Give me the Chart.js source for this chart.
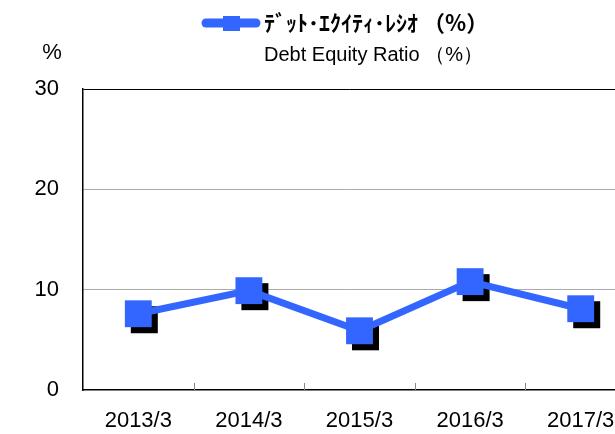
<!DOCTYPE html>
<html><head><meta charset="utf-8">
<script src="https://cdn.jsdelivr.net/npm/chart.js@4/dist/chart.umd.min.js"></script>
<style>html,body{margin:0;padding:0;background:#fff;overflow:hidden}#wrap{width:615px;height:434px}</style>
</head><body><div id="wrap"><canvas id="c" width="615" height="434"></canvas></div>
<script>
const categories = ["2013/3","2014/3","2015/3","2016/3","2017/3"];
const debtEquityRatio = [7.6, 9.9, 5.9, 10.8, 8.1];
const yTicks = [0, 10, 20, 30];
const legendJa = "ﾃﾞｯﾄ･ｴｸｲﾃｨ･ﾚｼｵ （%）";
const legendEn = "Debt Equity Ratio （%）";
const unitLabel = "%";

const FONT = '"Liberation Sans", Arial, sans-serif';
const BLUE = '#3366FF';
const points = debtEquityRatio.map((v, i) => ({ x: i, y: v }));

const extras = {
  id: 'extras',
  beforeDatasetsDraw(chart) {
    const ctx = chart.ctx;
    const meta = chart.getDatasetMeta(0);
    ctx.save();
    ctx.fillStyle = '#000';
    meta.data.forEach(p => {
      ctx.fillRect(p.x - 13.5 + 6, p.y - 13.5 + 6, 27, 27);
    });
    ctx.restore();
  },
  afterDraw(chart) {
    const ctx = chart.ctx;
    const x = chart.scales.x, a = chart.chartArea;
    ctx.save();
    ctx.strokeStyle = '#888';
    ctx.lineWidth = 1;
    for (let i = 0; i < categories.length - 1; i++) {
      const px = Math.round(x.getPixelForValue(i + 0.5)) + 0.5;
      ctx.beginPath(); ctx.moveTo(px, a.bottom - 7); ctx.lineTo(px, a.bottom); ctx.stroke();
    }
    ctx.fillStyle = '#000';
    ctx.font = '22px ' + FONT;
    ctx.textAlign = 'center'; ctx.textBaseline = 'middle';
    ctx.fillText(unitLabel, 52, 53);
    ctx.strokeStyle = BLUE; ctx.lineCap = 'round'; ctx.lineWidth = 9;
    ctx.beginPath(); ctx.moveTo(206, 23); ctx.lineTo(256, 23); ctx.stroke();
    ctx.fillStyle = BLUE;
    ctx.fillRect(223, 16, 17, 15);
    ctx.fillStyle = '#000';
    ctx.textAlign = 'left';
    ctx.font = 'bold 22px "Noto Sans CJK JP", sans-serif';
    ctx.fillText(legendJa, 264, 23);
    ctx.font = '20px ' + FONT;
    ctx.fillText(legendEn, 264, 55);
    ctx.restore();
  }
};

new Chart(document.getElementById('c'), {
  type: 'line',
  data: {
    datasets: [{
      data: points,
      borderColor: BLUE,
      backgroundColor: BLUE,
      borderWidth: 7,
      pointStyle: 'rect',
      pointRadius: 19,
      pointHoverRadius: 19,
      pointBorderWidth: 0,
      tension: 0,
      clip: false
    }]
  },
  options: {
    responsive: false,
    animation: false,
    events: [],
    layout: { autoPadding: false, padding: { top: 89, left: 0, right: 0, bottom: 0 } },
    plugins: { legend: { display: false }, tooltip: { enabled: false } },
    scales: {
      x: {
        type: 'linear',
        min: -0.5,
        max: 4.31,
        afterBuildTicks(s) { s.ticks = categories.map((c, i) => ({ value: i })); },
        afterFit(s) { s.height = 44; s.paddingLeft = 0; s.paddingRight = 0; },
        grid: { display: false, drawTicks: false },
        border: { display: true, color: '#000', width: 1.5 },
        ticks: { color: '#000', font: { family: FONT, size: 22 }, padding: 18, maxRotation: 0, autoSkip: false,
                 callback: (v) => categories[v] }
      },
      y: {
        min: 0, max: 30,
        afterFit(s) { s.width = 83; s.paddingTop = 0; s.paddingBottom = 0; },
        afterBuildTicks(s) { s.ticks = yTicks.map(v => ({ value: v })); },
        grid: {
          drawTicks: false,
          color: c => (c.tick && c.tick.value === 30) ? '#000' : (c.tick && c.tick.value === 0 ? 'rgba(0,0,0,0)' : '#aaa'),
          lineWidth: 1,
          dash: c => (c.tick && c.tick.value === 30) ? [] : [1, 1]
        },
        border: { display: true, color: '#000', width: 1.5 },
        ticks: { color: '#000', font: { family: FONT, size: 22 }, padding: 24 }
      }
    }
  },
  plugins: [extras]
});
</script></body></html>
